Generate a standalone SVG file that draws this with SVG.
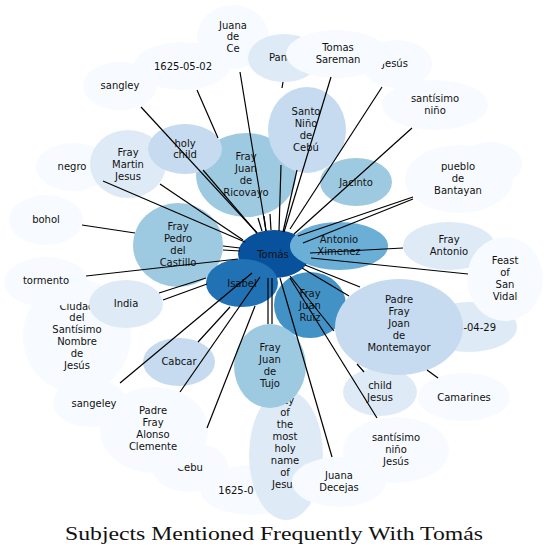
<svg xmlns="http://www.w3.org/2000/svg" width="548" height="555" viewBox="0 0 548 555">
<style>
.n text{font-family:"DejaVu Sans","Liberation Sans",sans-serif;font-size:10px;text-anchor:middle;dominant-baseline:central;fill:#111}
.c0{fill:#f7fbff}.c1{fill:#deebf7}.c2{fill:#c6dbef}.c3{fill:#9ecae1}.c4{fill:#6baed6}.c5{fill:#4292c6}.c6{fill:#2171b5}.c7{fill:#08519c}
#edges path{stroke:#000;stroke-width:1.2;fill:none}
.title{font-family:"Liberation Serif","DejaVu Serif",serif;font-size:19px;text-anchor:middle;fill:#111}
</style>
<rect width="548" height="555" fill="#fff"/>
<g id="nodes">
<g id="n_1625_05_02" class="n"><ellipse class="c0" cx="182" cy="66" rx="48" ry="24"/><text x="183" y="66">1625-05-02</text></g>
<g id="n_sangley" class="n"><ellipse class="c0" cx="120" cy="86" rx="37" ry="24"/><text x="120" y="85">sangley</text></g>
<g id="n_juana_ce" class="n"><ellipse class="c0" cx="233" cy="37" rx="36" ry="32"/><text x="233" y="25">Juana</text><text x="233" y="36">de</text><text x="233" y="48">Ce</text></g>
<g id="n_panay" class="n"><ellipse class="c1" cx="284" cy="58" rx="36" ry="24"/><text x="284" y="57">Panay</text></g>
<g id="n_jesus_top" class="n"><ellipse class="c0" cx="397" cy="64" rx="35" ry="24"/><text x="395" y="63">Jesús</text></g>
<g id="n_santisimo_nino" class="n"><ellipse class="c0" cx="435" cy="105" rx="53" ry="25"/><text x="435" y="98">santísimo</text><text x="435" y="110">niño</text></g>
<g id="n_tomas_sareman" class="n"><ellipse class="c0" cx="337" cy="54" rx="51" ry="24"/><text x="338" y="47">Tomas</text><text x="338" y="59">Sareman</text></g>
<g id="n_hidden" class="n"><ellipse class="c0" cx="490" cy="164" rx="32" ry="22"/></g>
<g id="n_bantayan" class="n"><ellipse class="c0" cx="459" cy="179" rx="54" ry="34"/><text x="458" y="166">pueblo</text><text x="458" y="178">de</text><text x="458" y="190">Bantayan</text></g>
<g id="n_negro" class="n"><ellipse class="c0" cx="73" cy="167" rx="37" ry="24"/><text x="72" y="166">negro</text></g>
<g id="n_bohol" class="n"><ellipse class="c0" cx="46" cy="220" rx="37" ry="25"/><text x="46" y="219">bohol</text></g>
<g id="n_ciudad" class="n"><ellipse class="c0" cx="77" cy="336" rx="54" ry="57"/><text x="77" y="306">Ciudad</text><text x="77" y="317">del</text><text x="77" y="329">Santísimo</text><text x="77" y="341">Nombre</text><text x="77" y="353">de</text><text x="77" y="365">Jesús</text></g>
<g id="n_tormento" class="n"><ellipse class="c0" cx="46" cy="282" rx="42" ry="25"/><text x="46" y="280">tormento</text></g>
<g id="n_india" class="n"><ellipse class="c1" cx="126" cy="304" rx="37" ry="24"/><text x="126" y="303">India</text></g>
<g id="n_cebu" class="n"><ellipse class="c0" cx="190" cy="467" rx="38" ry="25"/><text x="190" y="467">Cebu</text></g>
<g id="n_alonso" class="n"><ellipse class="c0" cx="154" cy="430" rx="54" ry="43"/><text x="153" y="410">Padre</text><text x="153" y="422">Fray</text><text x="153" y="434">Alonso</text><text x="153" y="446">Clemente</text></g>
<g id="n_sangeley" class="n"><ellipse class="c0" cx="90" cy="403" rx="37" ry="24"/><text x="94" y="403">sangeley</text></g>
<g id="n_1625_bottom" class="n"><ellipse class="c0" cx="252" cy="490" rx="52" ry="25"/><text x="236" y="490">1625-0</text></g>
<g id="n_holy_name" class="n"><ellipse class="c1" cx="286" cy="455" rx="37" ry="65"/><text x="285" y="400">city</text><text x="285" y="412">of</text><text x="285" y="424">the</text><text x="285" y="436">most</text><text x="285" y="448">holy</text><text x="285" y="460">name</text><text x="285" y="472">of</text><text x="285" y="484">Jesus</text></g>
<g id="n_santisimo_jesus" class="n"><ellipse class="c0" cx="396" cy="450" rx="53" ry="33"/><text x="396" y="437">santísimo</text><text x="396" y="449">niño</text><text x="396" y="461">Jesús</text></g>
<g id="n_juana_decejas" class="n"><ellipse class="c0" cx="339" cy="482" rx="47" ry="25"/><text x="339" y="475">Juana</text><text x="339" y="487">Decejas</text></g>
<g id="n_camarines" class="n"><ellipse class="c0" cx="464" cy="397" rx="46" ry="24"/><text x="464" y="397">Camarines</text></g>
<g id="n_1625_04_29" class="n"><ellipse class="c1" cx="469" cy="327" rx="48" ry="25"/><text x="467" y="327">1625-04-29</text></g>
<g id="n_fray_antonio" class="n"><ellipse class="c1" cx="449" cy="246" rx="46" ry="24"/><text x="449" y="239">Fray</text><text x="449" y="251">Antonio</text></g>
<g id="n_feast" class="n"><ellipse class="c0" cx="505" cy="279" rx="38" ry="42"/><text x="505" y="260">Feast</text><text x="505" y="272">of</text><text x="505" y="284">San</text><text x="505" y="296">Vidal</text></g>
<g id="n_child_jesus" class="n"><ellipse class="c1" cx="380" cy="392" rx="37" ry="24"/><text x="380" y="385">child</text><text x="380" y="397">Jesus</text></g>
<g id="n_ruiz" class="n"><ellipse class="c5" cx="310" cy="305" rx="36" ry="33"/><text x="310" y="293">Fray</text><text x="310" y="305">Juan</text><text x="310" y="317">Ruiz</text></g>
<g id="n_montemayor" class="n"><ellipse class="c2" cx="399" cy="327" rx="64" ry="48"/><text x="399" y="299">Padre</text><text x="399" y="311">Fray</text><text x="399" y="323">Joan</text><text x="399" y="335">de</text><text x="399" y="347">Montemayor</text></g>
<g id="n_tujo" class="n"><ellipse class="c3" cx="270" cy="366" rx="36" ry="42"/><text x="270" y="347">Fray</text><text x="270" y="359">Juan</text><text x="270" y="371">de</text><text x="270" y="383">Tujo</text></g>
<g id="n_cabcar" class="n"><ellipse class="c2" cx="179" cy="362" rx="36" ry="24"/><text x="179" y="361">Cabcar</text></g>
<g id="n_martin" class="n"><ellipse class="c1" cx="128" cy="164" rx="38" ry="34"/><text x="128" y="152">Fray</text><text x="128" y="164">Martin</text><text x="128" y="176">Jesus</text></g>
<g id="n_ricovayo" class="n"><ellipse class="c3" cx="246" cy="175" rx="50" ry="42"/><text x="246" y="156">Fray</text><text x="246" y="168">Juan</text><text x="246" y="180">de</text><text x="246" y="192">Ricovayo</text></g>
<g id="n_holy_child" class="n"><ellipse class="c2" cx="185" cy="149" rx="37" ry="25"/><text x="185" y="143">holy</text><text x="185" y="154">child</text></g>
<g id="n_santo_nino" class="n"><ellipse class="c2" cx="307" cy="130" rx="39" ry="43"/><text x="306" y="111">Santo</text><text x="306" y="123">Niño</text><text x="306" y="135">de</text><text x="306" y="147">Cebú</text></g>
<g id="n_jacinto" class="n"><ellipse class="c3" cx="356" cy="182" rx="36" ry="24"/><text x="356" y="182">Jacinto</text></g>
<g id="n_pedro" class="n"><ellipse class="c3" cx="178" cy="245" rx="45" ry="42"/><text x="178" y="226">Fray</text><text x="178" y="238">Pedro</text><text x="178" y="250">del</text><text x="178" y="262">Castillo</text></g>
<g id="n_tomas" class="n"><ellipse class="c7" cx="274" cy="254" rx="36" ry="24"/><text x="273" y="254">Tomás</text></g>
<g id="n_antonio_ximenez" class="n"><ellipse class="c4" cx="339" cy="246" rx="49" ry="24"/><text x="339" y="239">Antonio</text><text x="339" y="251">Ximenez</text></g>
<g id="n_isabel" class="n"><ellipse class="c6" cx="242" cy="283" rx="36" ry="24"/><text x="242" y="283">Isabel</text></g>
</g>
<g id="edges">
<path d="M141,107 L257,233"/>
<path d="M203,170 L257,233"/>
<path d="M197,90 L218,138 M258,218 L262,231"/>
<path d="M240,72 L266,231"/>
<path d="M283,82 L282,88 M281,165 L279,231"/>
<path d="M297,170 L283,232"/>
<path d="M331,77 L284,232"/>
<path d="M382,87 L290,229"/>
<path d="M412,128 L294,234"/>
<path d="M413,197 L298,236 M413,199 L303,243"/>
<path d="M403,248 L310,253"/>
<path d="M468,274 L311,258"/>
<path d="M302,268 L349,296"/>
<path d="M305,265 L360,287"/>
<path d="M290,276 L334,331 M357,364 L364,372"/>
<path d="M427,370 L438,378"/>
<path d="M290,278 L377,418"/>
<path d="M280,278 L332,457"/>
<path d="M268,278 L268,324 M272,278 L272,324"/>
<path d="M255,306 L207,428"/>
<path d="M260,277 L180,392"/>
<path d="M252,273 L120,383"/>
<path d="M230,307 L198,342"/>
<path d="M206,278 L159,293 M207,284 L163,300"/>
<path d="M238,259 L86,276"/>
<path d="M82,225 L135,233 M223,246 L240,248"/>
<path d="M223,250 L240,251"/>
<path d="M103,181 L245,242"/>
<path d="M160,184 L243,240"/>
<path d="M264,216 L266,231 M270,214 L271,230"/>
</g>
<text class="title" x="274" y="540" textLength="418" lengthAdjust="spacingAndGlyphs">Subjects Mentioned Frequently With Tomás</text>
</svg>
